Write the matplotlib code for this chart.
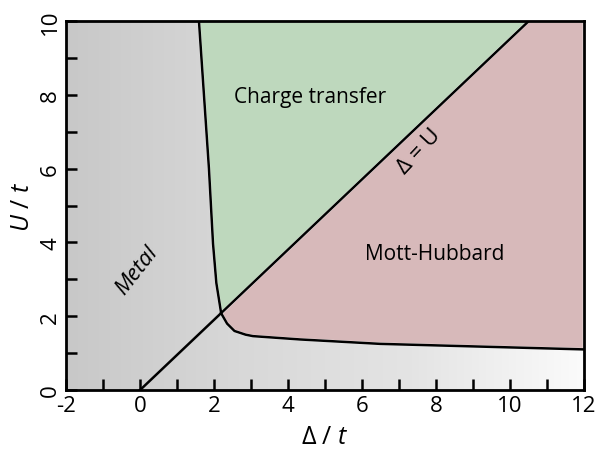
import numpy as np
import matplotlib.pyplot as plt
from matplotlib.colors import LinearSegmentedColormap

plt.rcParams['font.family'] = ['Open Sans', 'DejaVu Sans']
plt.rcParams['mathtext.fontset'] = 'custom'
plt.rcParams['mathtext.rm'] = 'Open Sans'
plt.rcParams['mathtext.it'] = 'Open Sans:italic'
plt.rcParams['axes.unicode_minus'] = False

# boundary metal / charge transfer (Delta, U)
metal_d = [1.59, 1.86, 1.97, 2.06, 2.19]
metal_u = [10.0, 6.0, 3.97, 2.9, 2.08]
# boundary metal / Mott-Hubbard
mh_d = [2.19, 2.35, 2.55, 2.85, 3.05, 4.32, 6.49, 12.0]
mh_u = [2.08, 1.8, 1.6, 1.5, 1.46, 1.37, 1.25, 1.1]
# Delta = U line
eq_d = [0.0, 10.5]
eq_u = [0.0, 10.0]

fig, ax = plt.subplots(figsize=(6.01, 4.52), dpi=100)
fig.subplots_adjust(left=0.110, right=0.972, top=0.951, bottom=0.135)

# grey background gradient
grey = LinearSegmentedColormap.from_list('g', ['#c8c8c8', '#d8d8d8', '#e4e4e4', '#fbfbfb'])
grad = np.linspace(0, 1, 256).reshape(1, -1)
ax.imshow(grad, cmap=grey, extent=[-2, 12, 0, 10], aspect='auto', zorder=0)

# charge transfer region
ct_x = metal_d + [eq_d[1]]
ct_y = metal_u + [eq_u[1]]
ax.fill(ct_x, ct_y, color='#bed8bd', ec='white', lw=2, zorder=1)

# Mott-Hubbard region
mh_x = mh_d + [12, eq_d[1]]
mh_y = mh_u + [10, 10]
ax.fill(mh_x, mh_y, color='#d7b9ba', ec='white', lw=2, zorder=1)

ax.plot(metal_d, metal_u, color='black', lw=1.8, zorder=3)
ax.plot(mh_d, mh_u, color='black', lw=1.8, zorder=3)
ax.plot(eq_d, eq_u, color='black', lw=1.8, zorder=3)

ax.text(4.6, 7.95, 'Charge transfer', fontsize=15, ha='center', va='center')
ax.text(7.95, 3.7, 'Mott-Hubbard', fontsize=15, ha='center', va='center')
ax.text(-0.1, 3.25, 'Metal', fontsize=16, style='italic', rotation=52,
        ha='center', va='center')
ax.text(7.55, 6.5, 'Δ = U', fontsize=16, rotation=47, ha='center', va='center')

ax.set_xlim(-2, 12)
ax.set_ylim(0, 10)
ax.set_xticks(np.arange(-2, 13, 2))
ax.set_yticks(np.arange(0, 11, 2))
ax.set_xticks(np.arange(-1, 12, 2), minor=True)
ax.set_yticks(np.arange(1, 10, 2), minor=True)
ax.tick_params(which='both', direction='in', length=8, width=1.8, labelsize=16)
ax.tick_params(axis='y', labelrotation=90)
for lab in ax.get_yticklabels():
    lab.set_va('center')
for s in ax.spines.values():
    s.set_linewidth(2)
    s.set_zorder(4)

ax.set_xlabel(r'Δ / $\mathit{t}$', fontsize=18, labelpad=6)
ax.set_ylabel(r'$\mathit{U}$ / $\mathit{t}$', fontsize=18, labelpad=4)

fig.savefig('out.png', dpi=100)
